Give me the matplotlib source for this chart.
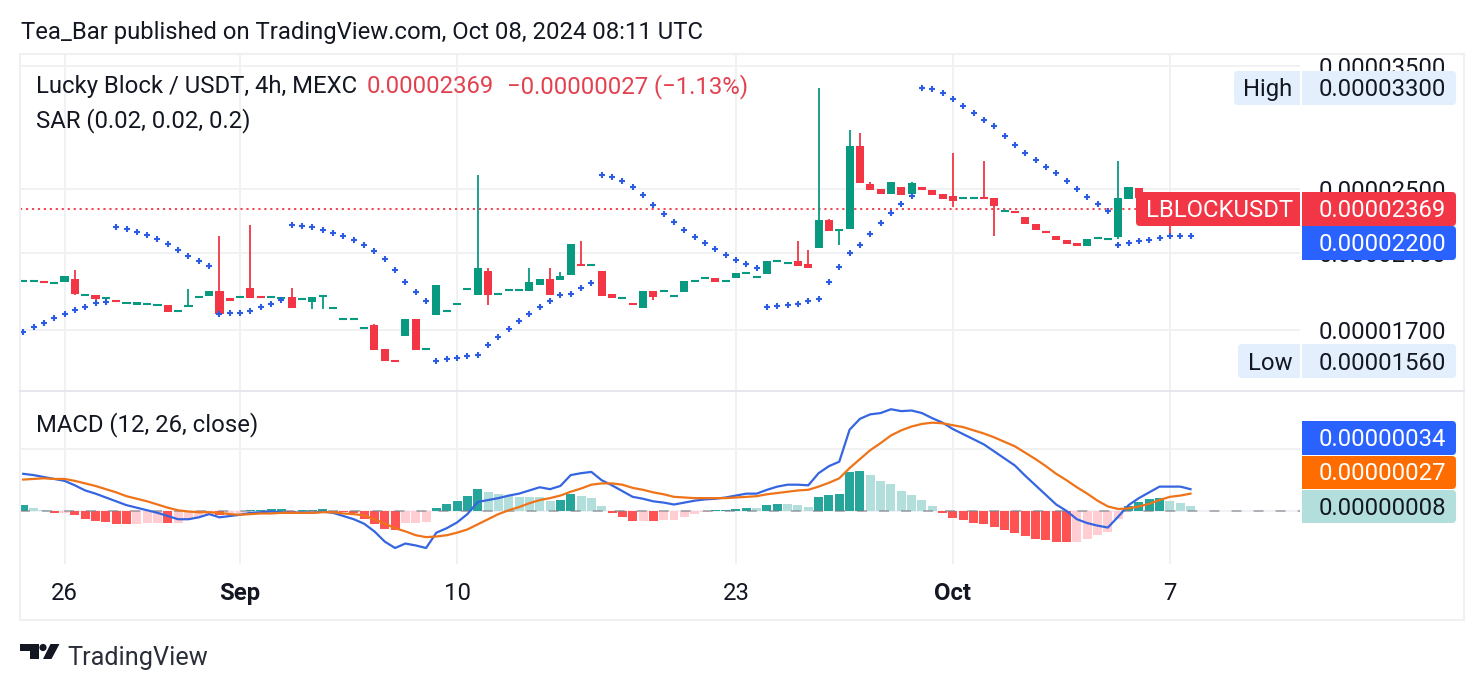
import numpy as np
import matplotlib
matplotlib.use('Agg')
import matplotlib.pyplot as plt
from matplotlib.patches import Rectangle, FancyBboxPatch, Polygon, Circle
from matplotlib.ticker import FixedLocator, FixedFormatter, NullLocator

plt.rcParams['font.family'] = ['Roboto', 'DejaVu Sans']

# prices are in units of 1e-8 USDT
opens = [1946,1946,1940,1935,1940,1955,1871,1869,1856,1842,1825,1820,1825,1820,1820,1792,1815,1861,1866,1891,
         1856,1861,1907,1861,1861,1849,1861,1851,1835,1866,1806,1752,1752,1709,1723,1614,1561,1672,1752,1614,
         1771,1791,1825,1902,1871,1998,1876,1897,1897,1891,1923,1955,1949,1976,2031,2031,1998,1876,1856,1825,
         1806,1891,1893,1866,1886,1946,1960,1960,1944,1960,1989,1965,1981,2053,2042,2053,2036,2127,2297,2235,
         2241,2812,2534,2500,2466,2514,2466,2514,2493,2466,2452,2439,2439,2439,2439,2354,2348,2316,2272,2223,
         2198,2174,2157,2139,2186,2180,2192,2433,2507,2430,2415,2400,2385,2396]
highs = [1946,1946,1940,1935,1971,2003,1871,1869,1856,1842,1835,1838,1825,1820,1820,1792,1900,1861,1891,2198,
         1856,1861,2266,1861,1861,1859,1907,1851,1859,1866,1806,1752,1752,1709,1728,1614,1561,1752,1752,1614,
         1923,1791,1825,1902,2598,2014,1876,1897,1897,2014,1955,2014,1992,2151,2169,2031,1998,1876,1856,1825,
         1891,1891,1893,1866,1944,1946,1960,1960,1944,1987,1989,1965,2053,2053,2042,2169,2116,3300,2303,2235,
         2938,2914,2548,2500,2548,2514,2548,2514,2493,2466,2759,2439,2439,2699,2439,2354,2348,2316,2272,2223,
         2198,2174,2157,2180,2186,2180,2699,2514,2507,2480,2415,2420,2396,2396]
lows = [1946,1946,1939,1935,1940,1871,1871,1836,1856,1841,1825,1820,1825,1820,1786,1792,1815,1861,1866,1776,
        1840,1861,1856,1860,1861,1849,1806,1851,1801,1801,1806,1752,1752,1709,1610,1562,1560,1672,1610,1614,
        1771,1791,1825,1902,1871,1820,1876,1897,1897,1891,1923,1871,1949,1976,2030,2031,1866,1856,1856,1824,
        1806,1845,1893,1866,1886,1946,1960,1939,1944,1960,1989,1965,1981,2053,2042,2025,2014,2127,2229,2145,
        2241,2541,2493,2466,2466,2459,2466,2493,2459,2433,2380,2439,2439,2438,2198,2354,2347,2272,2235,2222,
        2174,2151,2139,2139,2186,2180,2180,2433,2440,2415,2390,2198,2385,2369]
closes = [1946,1946,1939,1935,1971,1876,1871,1851,1856,1841,1835,1838,1825,1820,1786,1792,1815,1861,1891,1776,
          1840,1861,1856,1860,1861,1859,1806,1851,1859,1866,1806,1752,1752,1709,1610,1562,1560,1752,1610,1614,
          1923,1791,1825,1902,2014,1871,1876,1897,1897,1939,1955,1871,1971,2151,2030,2031,1866,1856,1856,1824,
          1891,1861,1893,1866,1944,1946,1960,1939,1944,1987,1989,1965,2053,2053,2042,2025,2014,2297,2229,2235,
          2812,2541,2493,2466,2548,2459,2541,2493,2459,2433,2419,2439,2439,2438,2386,2354,2347,2272,2235,2222,
          2174,2151,2139,2180,2186,2180,2439,2514,2440,2415,2390,2395,2396,2369]
sar = [1691,1714,1733,1757,1776,1796,1810,1829,1835,2253,2241,2223,2204,2180,2151,2116,2081,2053,2025,1776,
       1779,1779,1791,1810,1825,1847,2266,2260,2253,2235,2217,2198,2174,2145,2110,2064,2003,1939,1886,1840,
       1562,1570,1575,1583,1588,1632,1668,1705,1742,1776,1810,1840,1871,1876,1907,1933,2598,2583,2555,2514,
       2459,2393,2334,2284,2235,2192,2157,2122,2087,2059,2036,2014,1810,1815,1820,1825,1840,1851,1939,2020,
       2099,2145,2210,2278,2341,2400,2452,3296,3286,3251,3198,3137,3078,3019,2970,2890,2820,2759,2706,2655,
       2612,2555,2500,2445,2400,2354,2145,2157,2169,2174,2186,2198,2198,2198]

# MACD pane, also in 1e-8
macd = [58,56,53,50,47,40,32,27,21,15,9,5,1,-3,-8,-13,-13,-10,-5,-10,
        -8,-6,-3,-2,-1,-2,-3,-2,-3,-1,-3,-8,-13,-20,-32,-48,-58,-51,-54,-58,
        -34,-27,-18,-5,14,17,20,24,27,32,37,34,39,56,59,61,48,40,31,22,
        19,15,13,10,13,16,18,19,21,24,27,27,33,38,41,41,40,59,70,77,
        127,144,151,153,159,156,157,153,145,138,128,120,112,104,93,82,71,55,40,25,
        10,0,-13,-19,-23,-26,-9,9,20,29,38,38,38,34]
signal = [49,50,51,50,50,47,43,39,34,29,23,19,15,10,5,1,-1,-2,-2,-3,
          -5,-6,-5,-4,-4,-3,-3,-3,-3,-2,-2,-4,-5,-7,-13,-20,-27,-32,-38,-41,
          -40,-38,-34,-29,-21,-13,-5,1,6,12,17,20,24,30,35,41,43,43,41,36,
          33,29,26,22,21,20,20,20,20,21,22,23,26,28,30,32,33,38,44,51,
          67,81,95,106,118,126,132,136,138,137,134,131,126,121,115,108,101,91,81,70,
          58,48,37,27,16,7,3,4,7,11,17,22,24,27]
hist = [9,5,2,-3,-2.5,-7,-12,-16,-17,-20,-20.5,-20,-19,-18.5,-19,-18.5,-13,-9,-5,-6,
        -4,-3,2,2.2,3,3.2,-2,2,2.2,3,-1.5,-2,-4,-13,-21,-28,-30,-19,-18.5,-17,
        5,11,16,23,34,30,27,23,22,21.9,21.8,16,16.5,27,23,20,8,-3,-9,-16,
        -15.5,-16,-14,-13.5,-9,-5,-1,2,2.2,3,5,4.8,9,11,10.8,9,6,22,25,27,
        61,62.5,56,47,42,31,25,17,8,-3,-11,-14,-19,-20,-25,-30,-34,-39,-44,-45,
        -48,-48.5,-48,-44,-37,-33,-12,8,14,19,20,16,12.5,8]

price_ticks = [3500, 2500, 2100, 1700]
time_ticks = [4, 21, 42, 69, 90, 111]
time_labels = ['26', 'Sep', '10', '23', 'Oct', '7']
last_price = 2369

green = '#089981'
red = '#f23645'
grid = '#f0f1f3'
dark = '#131722'
W, H = 1484, 690
FS = 17.2


def pane(top, bottom):
    return fig.add_axes([20/W, 1-bottom/H, 1280/W, (bottom-top)/H])


def price_fmt(v):
    return f'{v*1e-8:.8f}'


fig = plt.figure(figsize=(W/100, H/100), dpi=100, facecolor='white')
x = np.arange(len(opens))
opens, highs, lows, closes = map(np.array, (opens, highs, lows, closes))
up = closes >= opens
cols = np.where(up, green, red)

# candles, anything within one tick is drawn as a dash
ax = pane(54, 391)
ax.set_yscale('log')
ax.set_xlim(-0.31, 123.6)
ax.set_ylim(1439, 3617)
ax.vlines(x, lows, highs, colors=cols, lw=1.3, zorder=3)
ax.bar(x, np.abs(closes-opens), bottom=np.minimum(opens, closes), width=0.78, color=cols, lw=0, zorder=4)
flat = np.abs(opens-closes) <= 1
ax.hlines(closes[flat], x[flat]-0.39, x[flat]+0.39, colors=cols[flat], lw=1.5, zorder=4)
ax.axhline(last_price, color=red, lw=1.3, ls=(0, (1.2, 2.1)), zorder=2)
ax.plot(x, sar, ls='none', marker='+', ms=4.6, mew=1.5, color='#2c5be5', zorder=5)

ax.yaxis.tick_right()
ax.yaxis.set_major_locator(FixedLocator(price_ticks))
ax.yaxis.set_major_formatter(FixedFormatter([price_fmt(v) for v in price_ticks]))
ax.yaxis.set_minor_locator(NullLocator())
ax.tick_params(axis='y', which='both', length=0, pad=13.2, labelsize=FS, labelcolor=dark)

# MACD
ax2 = pane(391, 564)
ax2.set_xlim(-0.31, 123.6)
ax2.set_ylim(-83, 187.5)
hist = np.array(hist)
prev = np.r_[hist[0], hist[:-1]]
bar_cols = np.where(hist >= 0,
                    np.where(hist >= prev, '#26a69a', '#b2dfdb'),
                    np.where(hist < prev, '#ff5252', '#ffcdd2'))
ax2.axhline(0, color=grid, lw=1.3, zorder=2)
ax2.bar(x, hist, width=0.87, color=bar_cols, lw=0, zorder=3)
ax2.axhline(0, color='#787b86', lw=1.3, alpha=0.6, ls=(0, (5.5, 6.7)), zorder=4)
ax2.plot(x, macd, color='#3565e0', lw=1.6, zorder=5)
ax2.plot(x, signal, color='#ef7318', lw=1.6, zorder=6)
ax2.set_yticks([97])
ax2.set_yticklabels([])
ax2.tick_params(axis='y', length=0)

for a in (ax, ax2):
    a.set_xticks(time_ticks)
    a.grid(True, color=grid, lw=1.4, zorder=0)
    a.set_axisbelow(True)
    for s in a.spines.values():
        s.set_visible(False)
    a.patch.set_alpha(0)
ax.tick_params(axis='x', length=0, labelbottom=False)
ax2.set_xticklabels(time_labels, fontsize=FS, color=dark)
ax2.tick_params(axis='x', length=0, pad=13)
for lab in ax2.get_xticklabels():
    if lab.get_text() in ('Sep', 'Oct'):
        lab.set_fontweight('bold')

# overlay in pixel coordinates for frame, tags and captions
ov = fig.add_axes([0, 0, 1, 1], zorder=5)
ov.set_xlim(0, W)
ov.set_ylim(H, 0)
ov.axis('off')
ov.patch.set_alpha(0)
ov.add_patch(Rectangle((20, 54), 1444, 566, fill=False, ec='#eff0f2', lw=1.5))
ov.plot([20, 1464], [391, 391], color='#e6e7ee', lw=1.4)


def tag(x0, x1, y0, y1, color, side):
    ov.add_patch(FancyBboxPatch((x0, y0), x1-x0, y1-y0, boxstyle='round,pad=0,rounding_size=4', fc=color, ec='none'))
    if side == 'left':
        ov.add_patch(Rectangle(((x0+x1)/2, y0), (x1-x0)/2, y1-y0, fc=color, ec='none'))
    else:
        ov.add_patch(Rectangle((x0, y0), (x1-x0)/2, y1-y0, fc=color, ec='none'))


def label(x0, y, s, color=dark, size=FS, **kw):
    ov.text(x0, y, s, color=color, fontsize=size, va='center_baseline', ha=kw.pop('ha', 'left'), **kw)


pale = '#e3effd'
tag(1234, 1300, 71, 105, pale, 'left')
label(1243, 87, 'High')
tag(1302, 1456, 71, 105, pale, 'right')
label(1319, 87, price_fmt(3300))
tag(1238, 1300, 344, 378, pale, 'left')
label(1248, 361, 'Low')
tag(1302, 1456, 344, 378, pale, 'right')
label(1319, 361, price_fmt(1560))
tag(1136, 1300, 192, 226, red, 'left')
label(1146, 208, 'LBLOCKUSDT', color='white')
tag(1302, 1456, 192, 226, red, 'right')
label(1319, 208, price_fmt(last_price), color='white')
tag(1302, 1456, 226, 260, '#2962ff', 'right')
label(1319, 242, price_fmt(2200), color='white')
tag(1302, 1456, 421, 455, '#2962ff', 'right')
label(1319, 437, price_fmt(macd[-1]), color='white')
tag(1302, 1456, 456, 489, '#ff6d00', 'right')
label(1319, 471, price_fmt(signal[-1]), color='white')
tag(1302, 1456, 490, 523, '#b2dfdb', 'right')
label(1319, 506, price_fmt(hist[-1]))

label(21, 30, 'Tea_Bar published on TradingView.com, Oct 08, 2024 08:11 UTC')
label(36, 84, 'Lucky Block / USDT, 4h, MEXC')
label(367, 84, price_fmt(last_price), color='#e2424f')
label(507, 84, '\u22120.00000027 (\u22121.13%)', color='#e2424f')
label(36, 118, 'SAR (0.02, 0.02, 0.2)')
label(36, 422, 'MACD (12, 26, close)')

# logo
ov.add_patch(Polygon([(20, 644), (39, 644), (39, 659), (29.5, 659), (29.5, 651), (20, 651)], fc=dark, ec='none'))
ov.add_patch(Circle((43, 647.5), 3.6, fc=dark, ec='none'))
ov.add_patch(Polygon([(50.5, 644), (59.5, 644), (51.5, 659), (43, 659)], fc=dark, ec='none'))
label(67, 655, 'TradingView', size=18.2, color='#2a2e39')

fig.savefig('out.png', dpi=100)
